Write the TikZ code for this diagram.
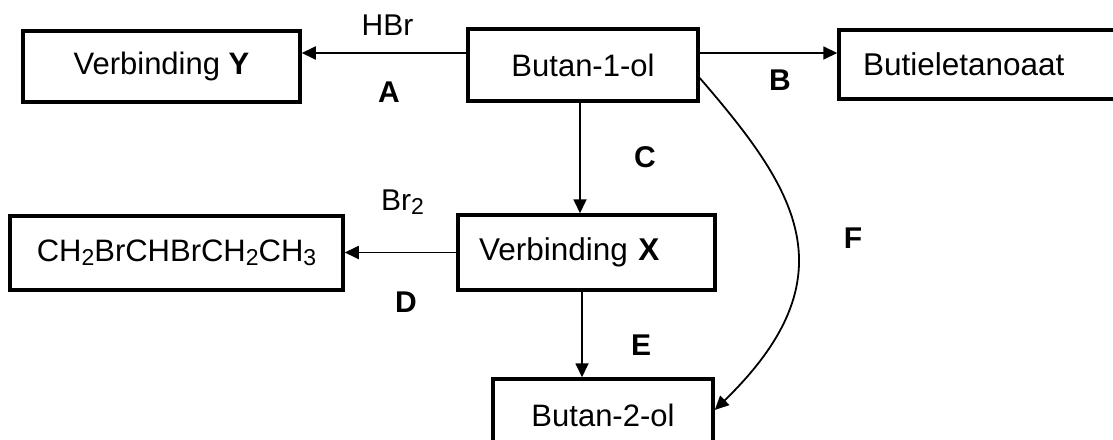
\documentclass[tikz,border=0pt]{standalone}
\usepackage{fontspec}
\setmainfont{Liberation Sans}
\usetikzlibrary{arrows.meta}
\newcommand\mysub[1]{\raisebox{-0.12em}{\fontsize{23}{24}\selectfont #1}}
\begin{document}
\begin{tikzpicture}[x=1pt,y=-1pt,
  box/.style={draw, line width=3.5pt, rectangle, inner sep=0pt, font=\fontsize{31}{36}\selectfont},
  lbl/.style={font=\fontsize{30}{36}\selectfont\bfseries, inner sep=0pt},
  txt/.style={font=\fontsize{30}{36}\selectfont, inner sep=0pt},
  arr/.style={line width=1.8pt, -{Triangle[length=14pt,width=13pt]}}]
\useasboundingbox (0,0) rectangle (1113,439);
\clip (0,0) rectangle (1113,439);
\fill[white] (0,0) rectangle (1113,439);
% boxes
\node[box, minimum width=277, minimum height=71] (Y) at (161.5,66.5) {Verbinding \textbf{Y}};
\node[box, minimum width=230, minimum height=72] (B1) at (583,65) {Butan-1-ol};
\node[box, minimum width=300, minimum height=69, text width=252, inner xsep=24pt, align=left, font=\fontsize{31.5}{36}\selectfont] (BE) at (989,64.5) {Butieletanoaat};
\node[box, minimum width=333, minimum height=74] (CH) at (176.5,253) {CH\mysub{2}BrCHBrCH\mysub{2}CH\mysub{3}};
\node[box, minimum width=257, minimum height=75, text width=215, inner xsep=21pt, align=left, font=\fontsize{31.5}{36}\selectfont] (X) at (586.5,252.5) {Verbinding \textbf{X}};
\node[box, minimum width=220, minimum height=72] (B2) at (603,415) {Butan-2-ol};
% connectors
\draw[arr] ([yshift=12pt]B1.west) -- ([yshift=12pt]B1.west -| Y.east);
\draw[arr] ([yshift=12pt]B1.east) -- ([yshift=12pt]B1.east -| BE.west);
\draw[arr] ([xshift=-3pt]B1.south) -- ([xshift=-3pt]B1.south |- X.north);
\draw[arr] (X.west) -- (X.west -| CH.east);
\draw[arr] ([xshift=-4.5pt]X.south) -- ([xshift=-4.5pt]X.south |- B2.north);
\draw[arr] ([yshift=-13pt]B1.east) .. controls +(95,110) and +(139,-135) .. ([yshift=5pt]B2.east);
% labels
\node[txt] (hbr) at (387.5,25) {HBr};
\node[lbl] (la) at (389,92) {A};
\node[lbl] (lb) at (780,80) {B};
\node[lbl] (lc) at (645,157) {C};
\node[txt, anchor=west] (br2) at (381,202) {Br\mysub{2}};
\node[lbl] (ld) at (406,302) {D};
\node[lbl] (le) at (641,345) {E};
\node[lbl] (lf) at (853,238) {F};
\end{tikzpicture}
\end{document}
